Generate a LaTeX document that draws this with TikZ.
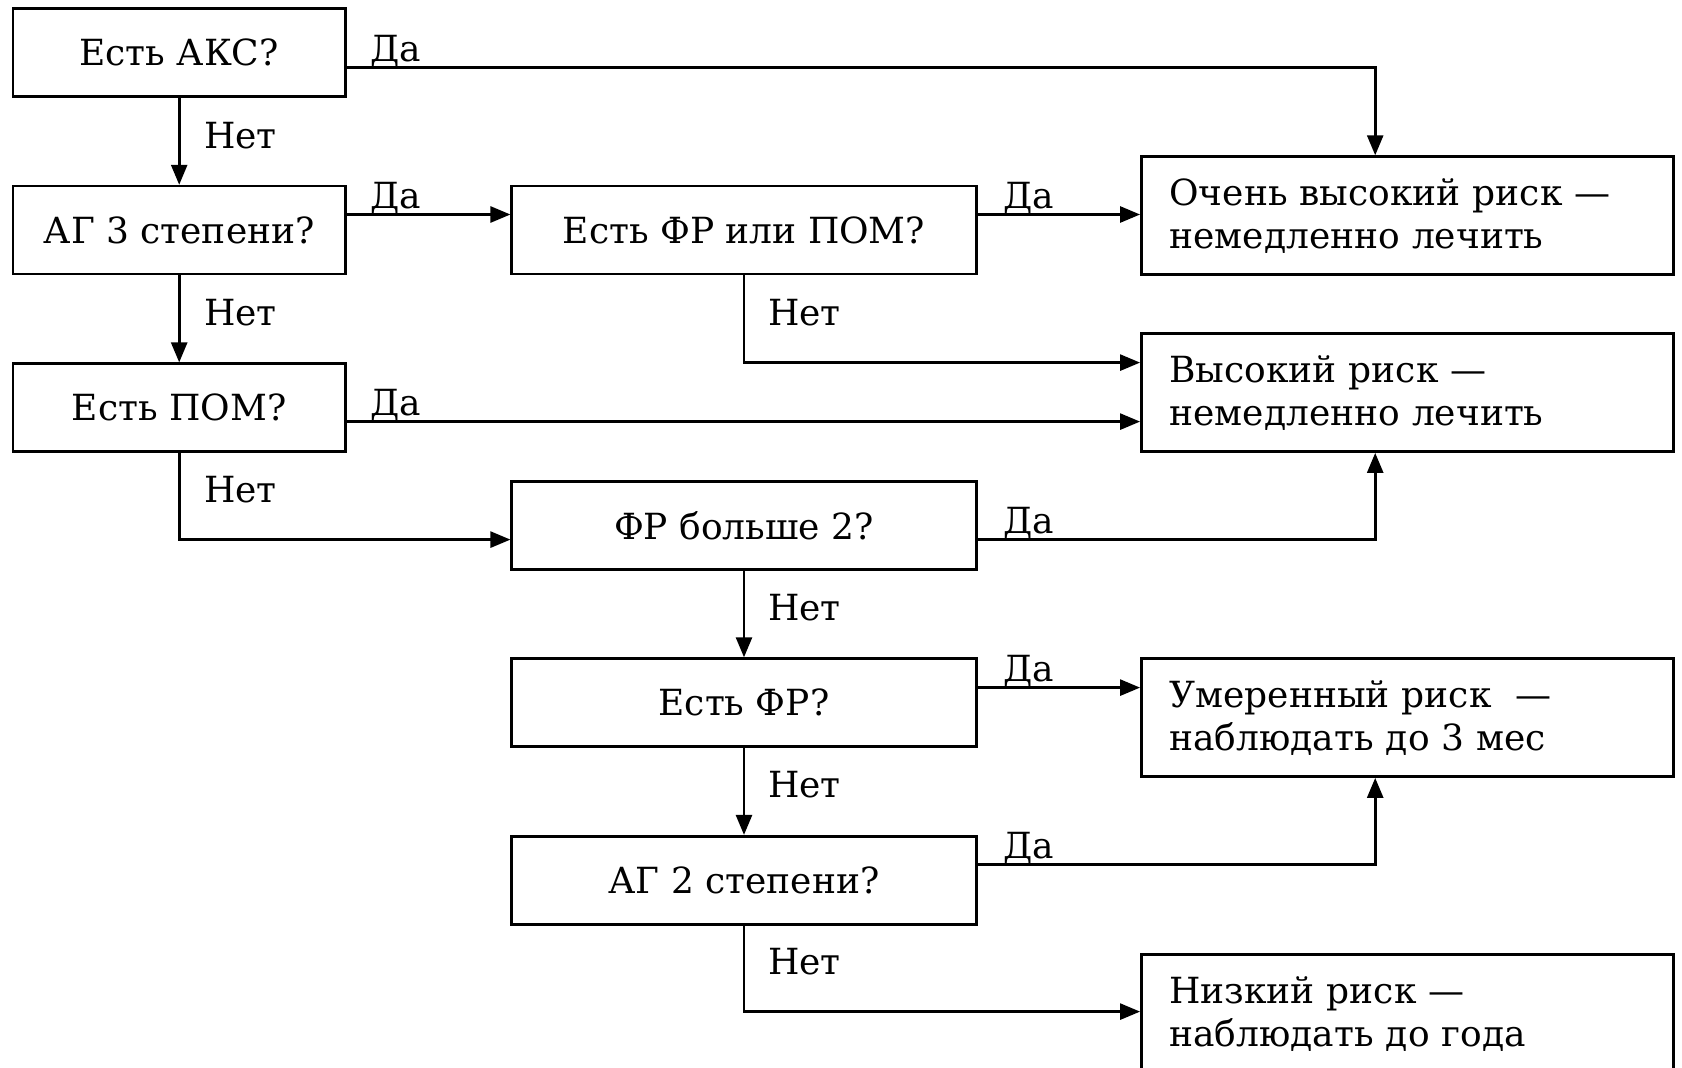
\documentclass[tikz,border=0pt]{standalone}
\usepackage{fontspec}
\setmainfont{DejaVu Serif}
\usetikzlibrary{arrows.meta}
\begin{document}
\begin{tikzpicture}[x=1pt,y=-1pt,
  every node/.style={font=\fontsize{36}{43}\selectfont},
  qbox/.style={draw, line width=2.6pt, minimum height=88pt, inner sep=0pt},
  lbox/.style={qbox, minimum width=332.5pt},
  mbox/.style={qbox, minimum width=464.5pt},
  rbox/.style={draw, line width=2.6pt, minimum height=118pt, text width=476pt, align=left, inner xsep=28pt, inner ysep=0pt},
  conn/.style={line width=2.6pt},
  arr/.style={conn, -{Triangle[length=20pt,width=16pt]}},
  yes/.style={anchor=south west, inner sep=0pt},
  no/.style={anchor=west, inner sep=0pt}]
\useasboundingbox (0,0) rectangle (1682,1068);
\fill[white] (0,0) rectangle (1682,1068);
\clip (0,0) rectangle (1682,1068);

% question boxes
\node[lbox] (q1) at (179.2,52.6) {Есть АКС?};
\node[lbox] (q2) at (179.2,230.1) {АГ 3 степени?};
\node[lbox] (q3) at (179.2,407.7) {Есть ПОМ?};
\node[mbox] (q4) at (744,230.1) {Есть ФР или ПОМ?};
\node[mbox] (q5) at (744,525.6) {ФР больше 2?};
\node[mbox] (q6) at (744,702.6) {Есть ФР?};
\node[mbox] (q7) at (744,880.2) {АГ 2 степени?};

% result boxes
\node[rbox] (r1) at (1407.4,215.6) {Очень высокий риск —\\немедленно лечить};
\node[rbox] (r2) at (1407.4,392.6) {Высокий риск —\\немедленно лечить};
\node[rbox] (r3) at (1407.4,717.6) {Умеренный риск~ —\\наблюдать до 3 мес};
\node[rbox] (r4) at (1407.4,1013.7) {Низкий риск —\\наблюдать до года};

% turn coordinates
\coordinate (c1) at (1375.2,67.6);
\coordinate (c2) at (0,214.5);
\coordinate (c3) at (744,362.6);
\coordinate (c4) at (0,421.6);
\coordinate (c5) at (179.2,539.6);
\coordinate (c6) at (1375.2,539.6);
\coordinate (c7) at (0,687.6);
\coordinate (c8) at (1375.2,864.6);
\coordinate (c9) at (744,1011.6);

% connectors
\draw[arr] (q1.east |- c1) -- (c1) -- (c1 |- r1.north);
\draw[arr] (q1.south) -- (q2.north);
\draw[arr] (q2.east |- c2) -- (q4.west |- c2);
\draw[arr] (q4.east |- c2) -- (r1.west |- c2);
\draw[arr] (q2.south) -- (q3.north);
\draw[arr] (q4.south) -- (c3) -- (r2.west |- c3);
\draw[arr] (q3.east |- c4) -- (r2.west |- c4);
\draw[arr] (q3.south) -- (c5) -- (q5.west |- c5);
\draw[arr] (q5.east |- c6) -- (c6) -- (c6 |- r2.south);
\draw[arr] (q5.south) -- (q6.north);
\draw[arr] (q6.east |- c7) -- (r3.west |- c7);
\draw[arr] (q6.south) -- (q7.north);
\draw[arr] (q7.east |- c8) -- (c8) -- (c8 |- r3.south);
\draw[arr] (q7.south) -- (c9) -- (r4.west |- c9);

% labels
\node[yes] (y1) at (370,67.6) {Да};
\node[yes] (y2) at (370,214.5) {Да};
\node[yes] (y3) at (1003,214.5) {Да};
\node[yes] (y4) at (370,421.6) {Да};
\node[yes] (y5) at (1003,539.6) {Да};
\node[yes] (y6) at (1003,687.6) {Да};
\node[yes] (y7) at (1003,864.6) {Да};
\node[no] (n1) at (204,136) {Нет};
\node[no] (n2) at (204,313) {Нет};
\node[no] (n3) at (204,490) {Нет};
\node[no] (n4) at (768,313) {Нет};
\node[no] (n5) at (768,608) {Нет};
\node[no] (n6) at (768,785) {Нет};
\node[no] (n7) at (768,962) {Нет};
\end{tikzpicture}
\end{document}
